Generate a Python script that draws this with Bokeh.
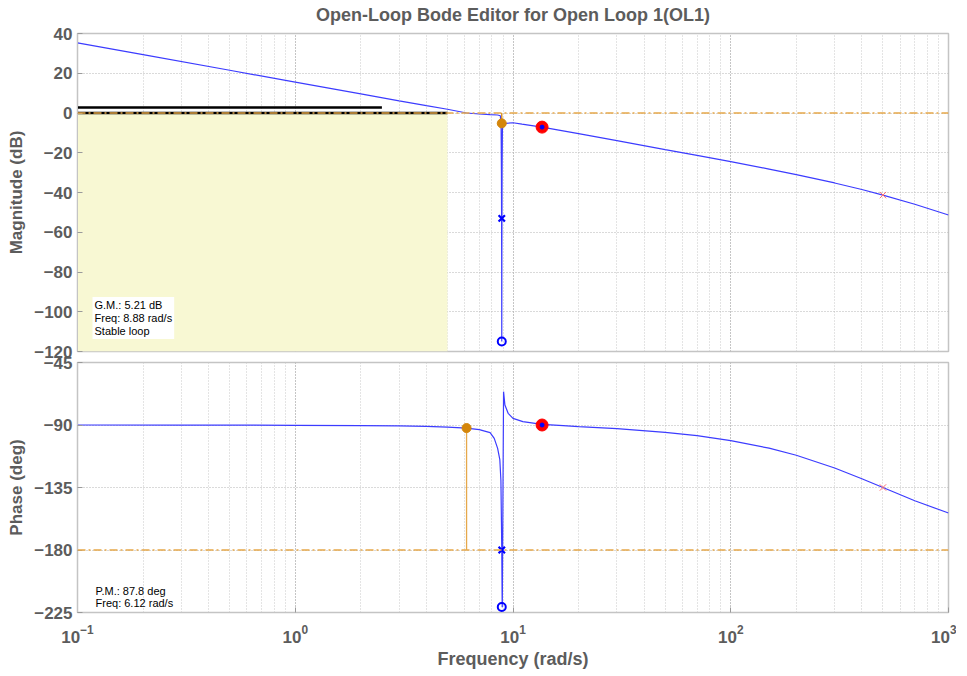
from bokeh.plotting import figure
from bokeh.layouts import column
from bokeh.models import FixedTicker, Label, Range1d, Span
from bokeh.embed import file_html
from bokeh.resources import INLINE

# ---------------- data ----------------
mag_freq = [0.1, 0.2, 0.5, 1, 2, 3, 4, 5, 6.12, 7.0, 7.85, 8.5, 8.75, 8.82, 8.85,
            8.87, 8.88, 8.89, 8.91, 8.94, 9.0, 9.3, 10, 11, 12, 13.6, 16, 20, 30,
            50, 70, 100, 150, 200, 300, 400, 500, 700, 1000]
mag_db = [35.3, 29.4, 21.5, 15.5, 9.6, 6.1, 3.7, 1.9, 0.0, -0.5, -0.8, -1.0, -1.4,
          -8.0, -30.0, -70.0, -115.0, -70.0, -30.0, -8.0, -5.5, -5.2, -4.9, -5.6,
          -6.2, -7.1, -8.5, -10.4, -13.9, -18.4, -21.3, -24.5, -28.2, -31.0,
          -35.2, -38.5, -41.3, -45.9, -51.3]

ph_freq = [0.1, 0.3, 1, 2, 3, 4, 5, 6.12, 7.0, 7.85, 8.2, 8.5, 8.7, 8.8, 8.85,
           8.88, 8.92, 8.93, 9.05, 9.18, 9.5, 10, 11.1, 13.6, 17, 20, 30, 50, 70,
           100, 150, 200, 300, 400, 500, 700, 1000]
ph_deg = [-90.0, -90.05, -90.2, -90.4, -90.7, -91.0, -91.5, -92.2, -93.3, -95.5,
          -99.6, -106.8, -115.0, -130.0, -160.0, -180.0, -221.0, -221.0, -66.0,
          -75.6, -81.6, -85.2, -87.6, -89.6, -90.5, -91.2, -92.6, -95.3, -97.6,
          -101.3, -106.7, -111.8, -121.0, -128.7, -135.0, -144.5, -153.4]

mag_ticks = [-120, -100, -80, -60, -40, -20, 0, 20, 40]
ph_ticks = [-225, -180, -135, -90, -45]

# constraint / margin annotations
bound_freq = [0.1, 5.0]
bound_db = 0.0
bound2_freq = [0.1, 2.5]
bound2_db = 2.8
gm_db = -5.21
gm_freq = 8.88
pm_freq = 6.12
pm_phase = -92.2
notch_freq = 8.88
notch_pole_db = -53.0
notch_zero_db = -115.0
notch_pole_deg = -180.0
notch_zero_deg = -221.0
comp_freq = 13.6
comp_db = -7.1
comp_deg = -90.0
plant_freq = 500.0
plant_db = -41.3
plant_deg = -135.0

# ---------------- styling ----------------
FONT = "Liberation Sans"
TXT = "#5c5c5c"
GRID = "#b4b4b4"
FRAME = "#c4c4c4"
BLUE = "#3c3cff"
ORANGE = "#d4860b"
ORANGE_L = "#e6a84a"
X_RANGE = (0.1, 1000)


def style(p):
    p.background_fill_color = "white"
    p.outline_line_color = FRAME
    p.outline_line_width = 1.5
    p.xgrid.grid_line_color = GRID
    p.xgrid.grid_line_dash = "1 2"
    p.xgrid.minor_grid_line_color = "#c8c8c8"
    p.xgrid.minor_grid_line_dash = "1 2"
    p.ygrid.grid_line_color = GRID
    p.ygrid.grid_line_dash = "1 2"
    for ax in p.yaxis + p.xaxis:
        ax.axis_line_color = FRAME
        ax.major_tick_line_color = "#9a9a9a"
        ax.major_tick_in = 5
        ax.major_tick_out = 0
        ax.minor_tick_line_color = None
        ax.major_label_text_font = FONT
        ax.major_label_text_font_style = "bold"
        ax.major_label_text_font_size = "17px"
        ax.major_label_text_color = TXT
        ax.axis_label_text_font = FONT
        ax.axis_label_text_font_style = "bold"
        ax.axis_label_text_font_size = "17px"
        ax.axis_label_text_color = TXT
        ax.major_label_standoff = 5
        ax.axis_label_standoff = 5


top = figure(frame_width=871, frame_height=318, x_axis_type="log",
             x_range=Range1d(*X_RANGE), y_range=Range1d(-120, 40),
             output_backend="svg", toolbar_location=None,
             min_border_left=77, min_border_right=8, min_border_top=25,
             min_border_bottom=10)
style(top)
top.border_fill_color = "white"
top.xaxis.visible = False
top.yaxis.ticker = FixedTicker(ticks=mag_ticks)
top.yaxis.axis_label = "Magnitude (dB)"
top.title.text = "Open-Loop Bode Editor for Open Loop 1(OL1)"
top.title.align = "center"
top.title.text_font = FONT
top.title.text_font_size = "18px"
top.title.text_font_style = "bold"
top.title.text_color = TXT
top.title.standoff = 18

top.quad(left=[bound_freq[0]], right=[bound_freq[1]], top=[bound_db], bottom=[-120],
         fill_color="#f8f8d3", line_color=None)
top.line(bound_freq, [bound_db, bound_db], line_color="black", line_width=2.5)
top.line(bound2_freq, [bound2_db, bound2_db], line_color="black", line_width=2.5)
top.add_layout(Span(location=0, dimension="width", line_color=ORANGE_L,
                    line_dash="8 3 2 3", line_width=1.3))
top.line(mag_freq, mag_db, line_color=BLUE, line_width=1.2)
top.line([gm_freq, gm_freq], [gm_db, 0], line_color=ORANGE, line_width=1.3)
top.scatter([gm_freq], [gm_db], marker="circle", size=9, fill_color=ORANGE, line_color=ORANGE)
top.scatter([notch_freq], [notch_pole_db], marker="x", size=9, line_color="blue", line_width=2.2)
top.scatter([notch_freq], [notch_zero_db], marker="circle", size=8, fill_color=None,
            line_color="blue", line_width=2)
top.scatter([comp_freq], [comp_db], marker="circle", size=12, fill_color="red", line_color="red")
top.scatter([comp_freq], [comp_db], marker="circle", size=4, fill_color="blue", line_color="blue")
top.scatter([plant_freq], [plant_db], marker="x", size=9, line_color="#ff7070", line_width=1)
top.add_layout(Label(x=0.1172, y=-92.6, text="G.M.: 5.21 dB\nFreq: 8.88 rad/s\nStable loop",
                     text_font=FONT, text_font_size="11px", text_color="black",
                     text_line_height=1.08, anchor="top_left",
                     background_fill_color="white", padding=2))

bot = figure(frame_width=871, frame_height=250, x_axis_type="log", x_range=top.x_range,
             y_range=Range1d(-225, -45), output_backend="svg", toolbar_location=None,
             min_border_left=77, min_border_right=8, min_border_top=10,
             min_border_bottom=54, margin=(-9, 0, 0, 0))
style(bot)
bot.border_fill_color = None
bot.yaxis.ticker = FixedTicker(ticks=ph_ticks)
bot.yaxis.axis_label = "Phase (deg)"
bot.xaxis.axis_label = "Frequency (rad/s)"
bot.xaxis.axis_label_text_font_size = "18px"
bot.xaxis.major_label_standoff = 8
bot.xaxis.axis_label_standoff = 3

bot.add_layout(Span(location=-180, dimension="width", line_color=ORANGE_L,
                    line_dash="8 3 2 3", line_width=1.3))
bot.line(ph_freq, ph_deg, line_color=BLUE, line_width=1.2)
bot.line([pm_freq, pm_freq], [pm_phase, -180], line_color=ORANGE_L, line_width=1.3)
bot.scatter([pm_freq], [pm_phase], marker="circle", size=9, fill_color=ORANGE, line_color=ORANGE)
bot.scatter([notch_freq], [notch_pole_deg], marker="x", size=9, line_color="blue", line_width=2.2)
bot.scatter([notch_freq], [notch_zero_deg], marker="circle", size=8, fill_color=None,
            line_color="blue", line_width=2)
bot.scatter([comp_freq], [comp_deg], marker="circle", size=12, fill_color="red", line_color="red")
bot.scatter([comp_freq], [comp_deg], marker="circle", size=4, fill_color="blue", line_color="blue")
bot.scatter([plant_freq], [plant_deg], marker="x", size=9, line_color="#ff7070", line_width=1)
bot.add_layout(Label(x=0.121, y=-205.0, text="P.M.: 87.8 deg\nFreq: 6.12 rad/s",
                     text_font=FONT, text_font_size="11px", text_color="black",
                     text_line_height=1.0, anchor="top_left"))

layout = column(top, bot, spacing=0, margin=(-7, 0, 0, 0))
open("out.html", "w").write(file_html(layout, INLINE))
